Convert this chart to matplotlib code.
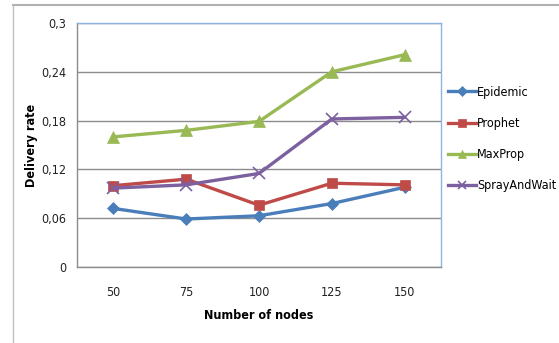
import matplotlib
matplotlib.use('Agg')
import matplotlib.pyplot as plt
from matplotlib import font_manager
from matplotlib.lines import Line2D
import numpy as np

names = {f.name for f in font_manager.fontManager.ttflist}
cond = 'DejaVu Sans Condensed' if 'DejaVu Sans Condensed' in names else 'DejaVu Sans'
plt.rcParams['font.family'] = [cond, 'DejaVu Sans']
plt.rcParams['font.stretch'] = 'condensed'

nodes = ['50', '75', '100', '125', '150']
epidemic = [0.072, 0.059, 0.063, 0.078, 0.098]
prophet = [0.100, 0.108, 0.076, 0.103, 0.101]
maxprop = [0.160, 0.168, 0.179, 0.240, 0.261]
spray = [0.097, 0.101, 0.115, 0.182, 0.184]

series = [
    ('Epidemic', epidemic, '#4A7EBB', 'D', 6),
    ('Prophet', prophet, '#BE4B48', 's', 7),
    ('MaxProp', maxprop, '#98B954', '^', 8),
    ('SprayAndWait', spray, '#7D60A0', 'x', 8),
]

fig = plt.figure(figsize=(5.59, 3.43), dpi=100)
ax = fig.add_axes([77 / 559, 1 - 267 / 343, 364 / 559, 244 / 343])

x = np.arange(len(nodes))
for name, vals, col, mk, ms in series:
    ax.plot(x, vals, color=col, lw=2.4, marker=mk, markersize=ms,
            markeredgewidth=1.2 if mk == 'x' else 0.5, label=name,
            clip_on=False, zorder=3)

ax.set_xlim(-0.5, 4.5)
ax.set_ylim(0, 0.3)
ax.set_xticks(x)
ax.set_xticklabels(nodes)
yt = [0, 0.06, 0.12, 0.18, 0.24, 0.3]
ax.set_yticks(yt)
ax.set_yticklabels(['0', '0,06', '0,12', '0,18', '0,24', '0,3'])
ax.tick_params(axis='both', length=0, labelsize=9, colors='#222222')
ax.tick_params(axis='x', pad=14)
ax.tick_params(axis='y', pad=8)
ax.yaxis.grid(True, color='#8c8c8c', lw=1)
ax.set_axisbelow(True)
for s in ['top', 'right']:
    ax.spines[s].set_color('#8db3e2')
    ax.spines[s].set_linewidth(1)
for s in ['left', 'bottom']:
    ax.spines[s].set_color('#8c8c8c')
    ax.spines[s].set_linewidth(1)

ax.set_xlabel('Number of nodes', fontsize=9, fontweight='bold')
ax.set_ylabel('Delivery rate', fontsize=9, fontweight='bold', va='center')
ax.xaxis.set_label_coords(0.5, -0.172)
ax.yaxis.set_label_coords(-0.125, 0.5)

handles = [Line2D([0], [0], color=c, lw=2.4, marker=m, markersize=ms * 0.8,
                  markeredgewidth=1.2 if m == 'x' else 0.5)
           for _, _, c, m, ms in series]
fig.legend(handles, [s[0] for s in series], loc='center left',
           bbox_to_anchor=(437 / 559, 1 - 139 / 343), frameon=False,
           fontsize=9, handlelength=2.2, handletextpad=0.1,
           labelspacing=1.45)

# page border
fig.add_artist(Line2D([13 / 559, 1], [1 - 5 / 343, 1 - 5 / 343],
                      color='#b0b0b0', lw=1.5))
fig.add_artist(Line2D([13 / 559, 13 / 559], [0, 1 - 5 / 343],
                      color='#c0c0c0', lw=1))

fig.savefig('out.png', dpi=100)
